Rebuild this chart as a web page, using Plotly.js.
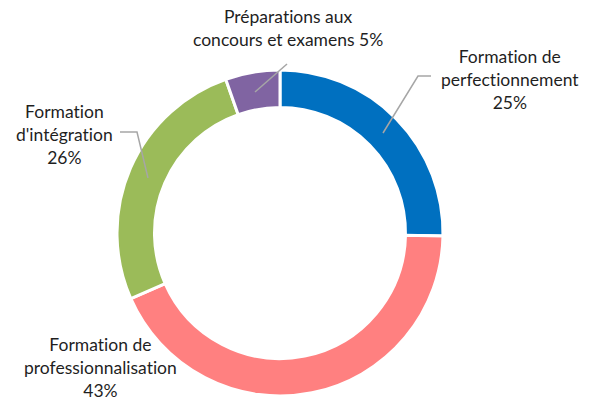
<!DOCTYPE html>
<html>
<head>
<meta charset="utf-8">
<script src="https://cdn.plot.ly/plotly-3.0.1.min.js"></script>
<style>html,body{margin:0;padding:0;background:#fff;}#chart{width:595px;height:400px;}
text{font-variant-ligatures:none;font-feature-settings:"liga" 0;}</style>
</head>
<body>
<div id="chart"></div>
<script>
const categories = ["Formation de perfectionnement", "Formation de professionnalisation", "Formation d'intégration", "Préparations aux concours et examens"];
const values = [25.3, 43.1, 26.2, 5.4];
const colors = ["#0070C0", "#FF8080", "#9BBB59", "#8064A2"];
const labelLines = [
  ["Formation de", "perfectionnement"],
  ["Formation de", "professionnalisation"],
  ["Formation", "d'intégration"],
  ["Préparations aux", "concours et examens"]
];

const W = 595, H = 400;
const px = x => x / W;
const py = y => 1 - y / H;
const total = values.reduce((a, b) => a + b, 0);
const pct = values.map(v => Math.round(v / total * 100) + "%");

// label placement (pixels): center x, center y
const labelPos = [[510, 80], [100, 367], [64, 134], [288, 28]];
const labelTexts = labelLines.map((l, i) => {
  if (i === 3) return l[0] + "<br>" + l[1] + " " + pct[i];
  return l.join("<br>") + "<br>" + pct[i];
});

const annotations = labelTexts.map((t, i) => ({
  text: t, xref: "paper", yref: "paper",
  x: px(labelPos[i][0]), y: py(labelPos[i][1]),
  xanchor: "center", yanchor: "middle", align: "center", showarrow: false,
  font: {family: "Lato, 'Open Sans', sans-serif", size: 17.5, color: "#1F1F1F"}
}));

function pathPx(pts) {
  return pts.map((p, i) => (i ? "L" : "M") + p[0] + "," + p[1]).join(" ");
}
const leaderPts = [
  [[383, 133], [418, 76], [431, 76]],
  [[148, 178], [137, 132], [120, 132]],
  [[255, 92], [287, 64]]
];
const shapes = leaderPts.map(pts => ({
  type: "path", xref: "paper", yref: "paper",
  path: pathPx(pts.map(p => [px(p[0]), py(p[1])])),
  line: {color: "#A6A6A6", width: 1.5}
}));

const trace = {
  type: "pie",
  labels: categories,
  values: values,
  sort: false,
  direction: "clockwise",
  rotation: 0,
  hole: 0.77,
  textinfo: "none",
  marker: {colors: colors, line: {color: "#FFFFFF", width: 3}},
  domain: {x: [117 / W, 443 / W], y: [4 / H, 330 / H]},
  showlegend: false,
  hoverinfo: "label+percent"
};

Plotly.newPlot("chart", [trace], {
  width: W, height: H,
  margin: {l: 0, r: 0, t: 0, b: 0},
  paper_bgcolor: "#FFFFFF",
  showlegend: false,
  annotations: annotations,
  shapes: shapes
}, {staticPlot: true});
</script>
</body>
</html>
